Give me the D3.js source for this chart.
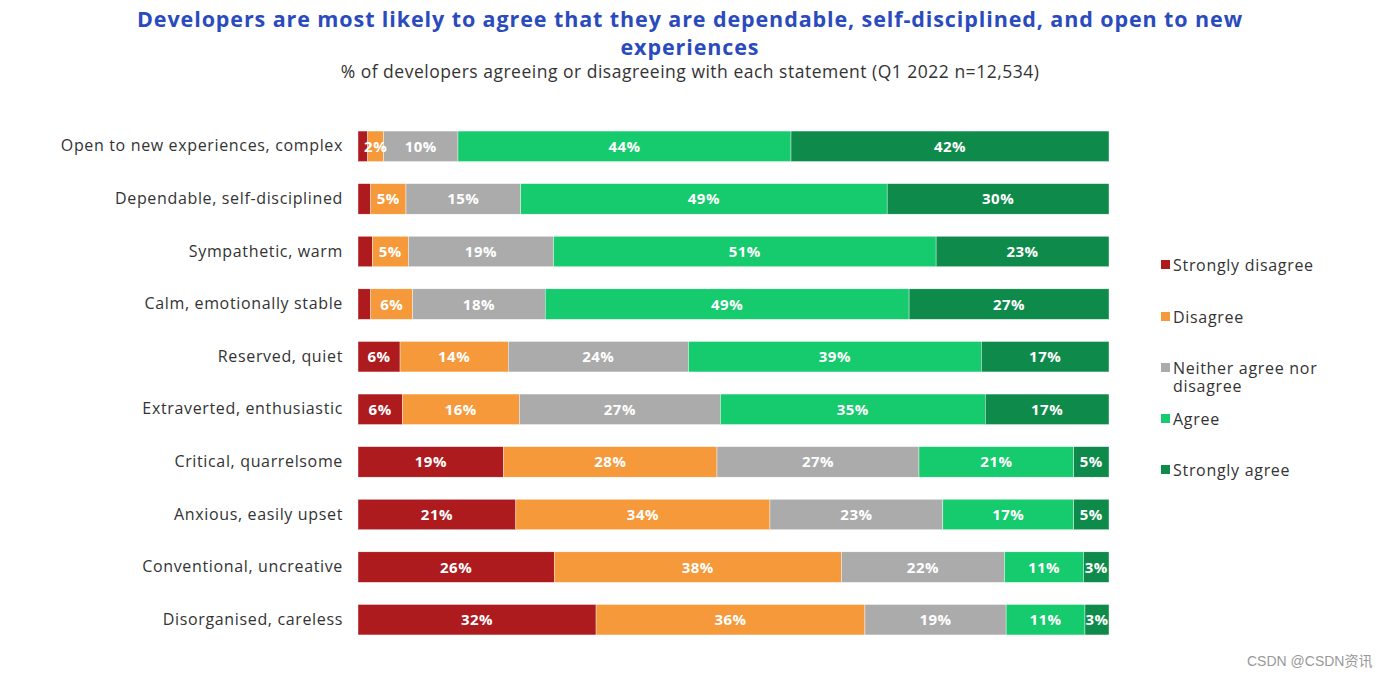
<!DOCTYPE html>
<html>
<head>
<meta charset="utf-8">
<script src="https://cdn.jsdelivr.net/npm/d3@7"></script>
<style>
  body { margin: 0; background: #fff; }
  text { font-family: "Open Sans", "DejaVu Sans", sans-serif; }
</style>
</head>
<body>
<div id="chart"></div>
<script>
// statements, top to bottom
const statements = [
    "Open to new experiences, complex",
    "Dependable, self-disciplined",
    "Sympathetic, warm",
    "Calm, emotionally stable",
    "Reserved, quiet",
    "Extraverted, enthusiastic",
    "Critical, quarrelsome",
    "Anxious, easily upset",
    "Conventional, uncreative",
    "Disorganised, careless"
];
const answers = ["Strongly disagree", "Disagree", "Neither agree nor disagree", "Agree", "Strongly agree"];

// % per answer, same order as statements
const stronglyDisagree = [1.3, 1.7, 1.9, 1.7, 5.6, 5.9, 19.4, 21, 26.1, 31.7];
const disagree         = [2.1, 4.7, 4.8, 5.6, 14.4, 15.6, 28.4, 33.8, 38.2, 35.8];
const neither          = [9.9, 15.3, 19.3, 17.7, 24, 26.8, 26.9, 23, 21.7, 18.8];
const agree            = [44.3, 48.9, 50.9, 48.6, 39, 35.3, 20.6, 17.4, 10.5, 10.5];
const stronglyAgree    = [42.3, 29.6, 23, 26.7, 17, 16.5, 4.7, 4.7, 3.4, 3.2];

const colors = ["#ae1b1f", "#f5993a", "#ababab", "#15cb6d", "#0e8a4a"];

const W = 1396, H = 679;
const svg = d3.select("#chart").append("svg").attr("width", W).attr("height", H);

// title + subtitle
svg.append("text")
    .attr("x", 690).attr("y", 27)
    .attr("text-anchor", "middle")
    .style("font-size", "21.5px").style("font-weight", "bold").style("fill", "#2a4bbd")
    .style("letter-spacing", "0.9px")
    .text("Developers are most likely to agree that they are dependable, self-disciplined, and open to new");
svg.append("text")
    .attr("x", 690).attr("y", 55)
    .attr("text-anchor", "middle")
    .style("font-size", "21.5px").style("font-weight", "bold").style("fill", "#2a4bbd")
    .style("letter-spacing", "0.9px")
    .text("experiences");
svg.append("text")
    .attr("x", 690).attr("y", 78)
    .attr("text-anchor", "middle")
    .style("font-size", "17.5px").style("fill", "#333")
    .style("letter-spacing", "0.5px")
    .text("% of developers agreeing or disagreeing with each statement (Q1 2022 n=12,534)");

const rows = statements.map((s, i) => ({
    name: s,
    [answers[0]]: stronglyDisagree[i],
    [answers[1]]: disagree[i],
    [answers[2]]: neither[i],
    [answers[3]]: agree[i],
    [answers[4]]: stronglyAgree[i]
}));

const stack = d3.stack().keys(answers).offset(d3.stackOffsetExpand);
const series = stack(rows);

const x = d3.scaleLinear().domain([0, 1]).range([358, 1109]);
const y = d3.scaleBand().domain(statements).range([120, 646]).paddingInner(0.42).paddingOuter(0.21);
const color = d3.scaleOrdinal().domain(answers).range(colors);

// category labels
svg.append("g")
    .attr("transform", "translate(350,0)")
    .call(d3.axisLeft(y).tickSize(0).tickPadding(7))
    .call(g => g.select(".domain").remove())
    .selectAll("text")
    .style("font-size", "16px").style("fill", "#333")
    .style("letter-spacing", "0.65px")
    .style("font-family", "'Open Sans', sans-serif");

const layer = svg.append("g").selectAll("g")
    .data(series)
    .join("g")
    .attr("fill", d => color(d.key));

layer.selectAll("rect")
    .data(d => d)
    .join("rect")
    .attr("x", d => x(d[0]))
    .attr("y", d => y(d.data.name))
    .attr("width", d => x(d[1]) - x(d[0]))
    .attr("height", y.bandwidth())
    .attr("stroke", "#fff")
    .attr("stroke-width", 0.4);

// value labels (tiny segments are left blank)
series.forEach(s => {
    svg.append("g").selectAll("text")
        .data(s.filter(d => d.data[s.key] >= 2))
        .join("text")
        .attr("x", d => (x(d[0]) + x(d[1])) / 2)
        .attr("y", d => y(d.data.name) + y.bandwidth() / 2)
        .attr("dy", "0.36em")
        .attr("text-anchor", "middle")
        .style("font-size", "15px").style("font-weight", "bold").style("fill", "#fff")
        .style("letter-spacing", "0.5px")
        .text(d => Math.round(d.data[s.key]) + "%");
});

// legend
const legendY = [265, 317, 368, 419, 470];
const legend = svg.append("g").selectAll("g")
    .data(answers)
    .join("g")
    .attr("transform", (d, i) => `translate(1161,${legendY[i]})`);
legend.append("rect")
    .attr("x", 0).attr("y", -5).attr("width", 9).attr("height", 9)
    .attr("fill", d => color(d));
legend.append("text")
    .attr("x", 12).attr("dy", "0.36em")
    .style("font-size", "16px").style("fill", "#333")
    .style("letter-spacing", "0.7px")
    .each(function(d) {
        const t = d3.select(this);
        if (d === "Neither agree nor disagree") {
            t.append("tspan").attr("x", 12).text("Neither agree nor");
            t.append("tspan").attr("x", 12).attr("dy", "1.15em").text("disagree");
        } else {
            t.text(d);
        }
    });

// watermark
svg.append("text")
    .attr("x", 1247).attr("y", 666)
    .style("font-size", "14px").style("fill", "#999")
    .style("font-family", "'Liberation Sans', 'Noto Sans CJK SC', sans-serif")
    .text("CSDN @CSDN资讯");
</script>
</body>
</html>
